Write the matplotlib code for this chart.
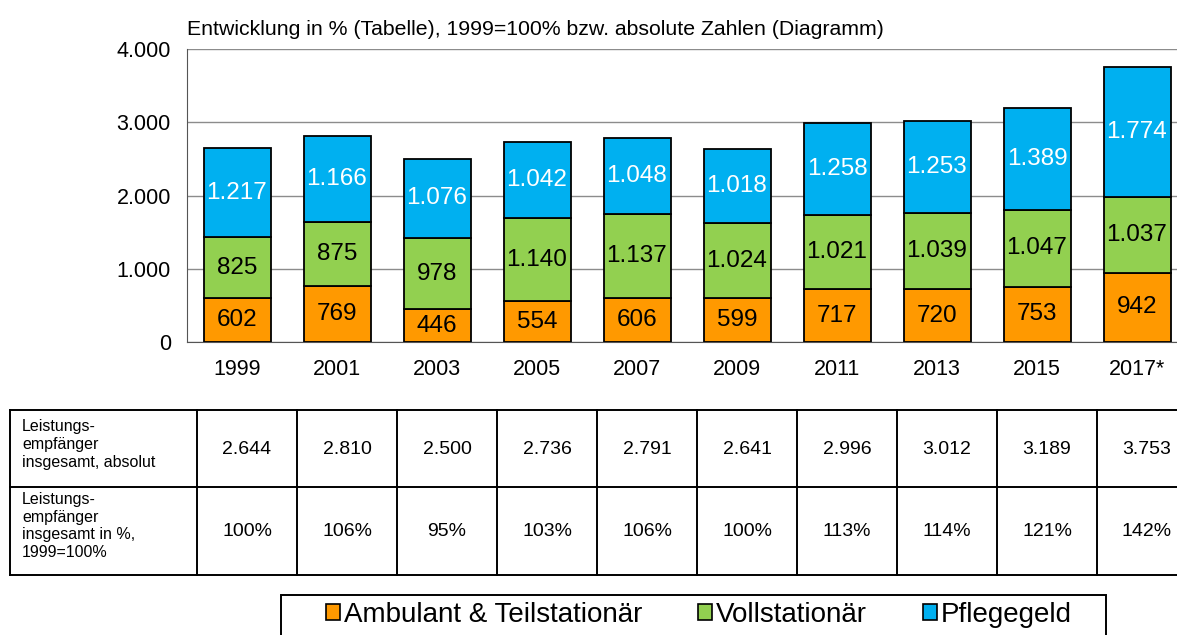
import matplotlib
matplotlib.use("Agg")
import matplotlib.pyplot as plt
from matplotlib.patches import Rectangle, Patch
from matplotlib.lines import Line2D

plt.rcParams['font.family'] = ['Liberation Sans', 'DejaVu Sans']

years = ["1999", "2001", "2003", "2005", "2007", "2009", "2011", "2013", "2015", "2017*"]
ambulant = [602, 769, 446, 554, 606, 599, 717, 720, 753, 942]
vollstationaer = [825, 875, 978, 1140, 1137, 1024, 1021, 1039, 1047, 1037]
pflegegeld = [1217, 1166, 1076, 1042, 1048, 1018, 1258, 1253, 1389, 1774]
total_abs = [2644, 2810, 2500, 2736, 2791, 2641, 2996, 3012, 3189, 3753]
total_pct = [100, 106, 95, 103, 106, 100, 113, 114, 121, 142]
series_names = ["Ambulant & Teilstationär", "Vollstationär", "Pflegegeld"]
colors = ["#FF9900", "#92D050", "#00B0F0"]
label_colors = ["black", "black", "white"]
row_headers = ["Leistungs-\nempfänger\ninsgesamt, absolut",
               "Leistungs-\nempfänger\ninsgesamt in %,\n1999=100%"]
title = "Entwicklung in % (Tabelle), 1999=100% bzw. absolute Zahlen (Diagramm)"


def de(n):
    return f"{n:,}".replace(",", ".")


W, H = 1177, 635
fig = plt.figure(figsize=(W / 100, H / 100), dpi=100)
ax = fig.add_axes([187 / W, 1 - 342 / H, 990 / W, (342 - 49) / H])

x = list(range(len(years)))
bottoms = [0] * len(years)
for vals, col, lc in zip([ambulant, vollstationaer, pflegegeld], colors, label_colors):
    ax.bar(x, vals, bottom=bottoms, width=0.67, color=col,
           edgecolor="black", linewidth=1.3, zorder=3)
    for xi, v, b in zip(x, vals, bottoms):
        ax.text(xi, b + v / 2, de(v), ha="center", va="center",
                fontsize=17.5, color=lc, zorder=4)
    bottoms = [b + v for b, v in zip(bottoms, vals)]

ax.set_xlim(-0.5, 9.4)
ax.set_ylim(0, 4000)
ax.set_yticks([0, 1000, 2000, 3000, 4000])
ax.set_yticklabels([de(v) for v in [0, 1000, 2000, 3000, 4000]], fontsize=15.5)
ax.set_xticks(x)
ax.set_xticklabels(years, fontsize=15.5)
ax.tick_params(axis="x", length=0, pad=12.5)
ax.tick_params(axis="y", length=0, pad=11.6)
ax.yaxis.grid(True, color="#8c8c8c", linewidth=1.0, zorder=0)
ax.set_axisbelow(True)
for s in ["top", "right"]:
    ax.spines[s].set_visible(False)
ax.spines["left"].set_color("#555555")
ax.spines["bottom"].set_color("#555555")
ax.text(0, 1.035, title, transform=ax.transAxes, fontsize=15.3, ha="left", va="bottom")

# table overlay in pixel coordinates
ov = fig.add_axes([0, 0, 1, 1], zorder=-1)
ov.set_xlim(0, W)
ov.set_ylim(H, 0)
ov.axis("off")
lw = 1.4
y_top, y_mid, y_bot = 410, 487, 575
for yy in [y_top, y_mid, y_bot]:
    ov.add_line(Line2D([10, W], [yy, yy], color="black", linewidth=lw))
col_x = [10, 197] + [297 + 100 * i for i in range(9)]
for cx in col_x:
    ov.add_line(Line2D([cx, cx], [y_top, y_bot], color="black", linewidth=lw))
row_centers = [(y_top + y_mid) / 2 + 1, (y_mid + y_bot) / 2]
for rc, hdr in zip(row_centers, row_headers):
    ov.text(22, rc - 5, hdr, ha="left", va="center", fontsize=11.5, linespacing=1.22)
for i in range(len(years)):
    cx = 247 + 100 * i
    ov.text(cx, row_centers[0], de(total_abs[i]), ha="center", va="center", fontsize=14)
    ov.text(cx, row_centers[1], f"{total_pct[i]}%", ha="center", va="center", fontsize=14)

# legend frame
ov.add_patch(Rectangle((281, 595), 825, 60, facecolor="white", edgecolor="black",
                       linewidth=1.4))
handles = [Patch(facecolor=c, edgecolor="black", linewidth=1.2) for c in colors]
leg = fig.legend(handles, series_names, loc="center",
                 bbox_to_anchor=(699 / W, 1 - 615 / H),
                 ncol=3, fontsize=20, frameon=False,
                 handlelength=0.5, handleheight=0.5, handletextpad=0.15,
                 columnspacing=2.0, borderpad=0, borderaxespad=0)

fig.savefig("out.png", dpi=100)
